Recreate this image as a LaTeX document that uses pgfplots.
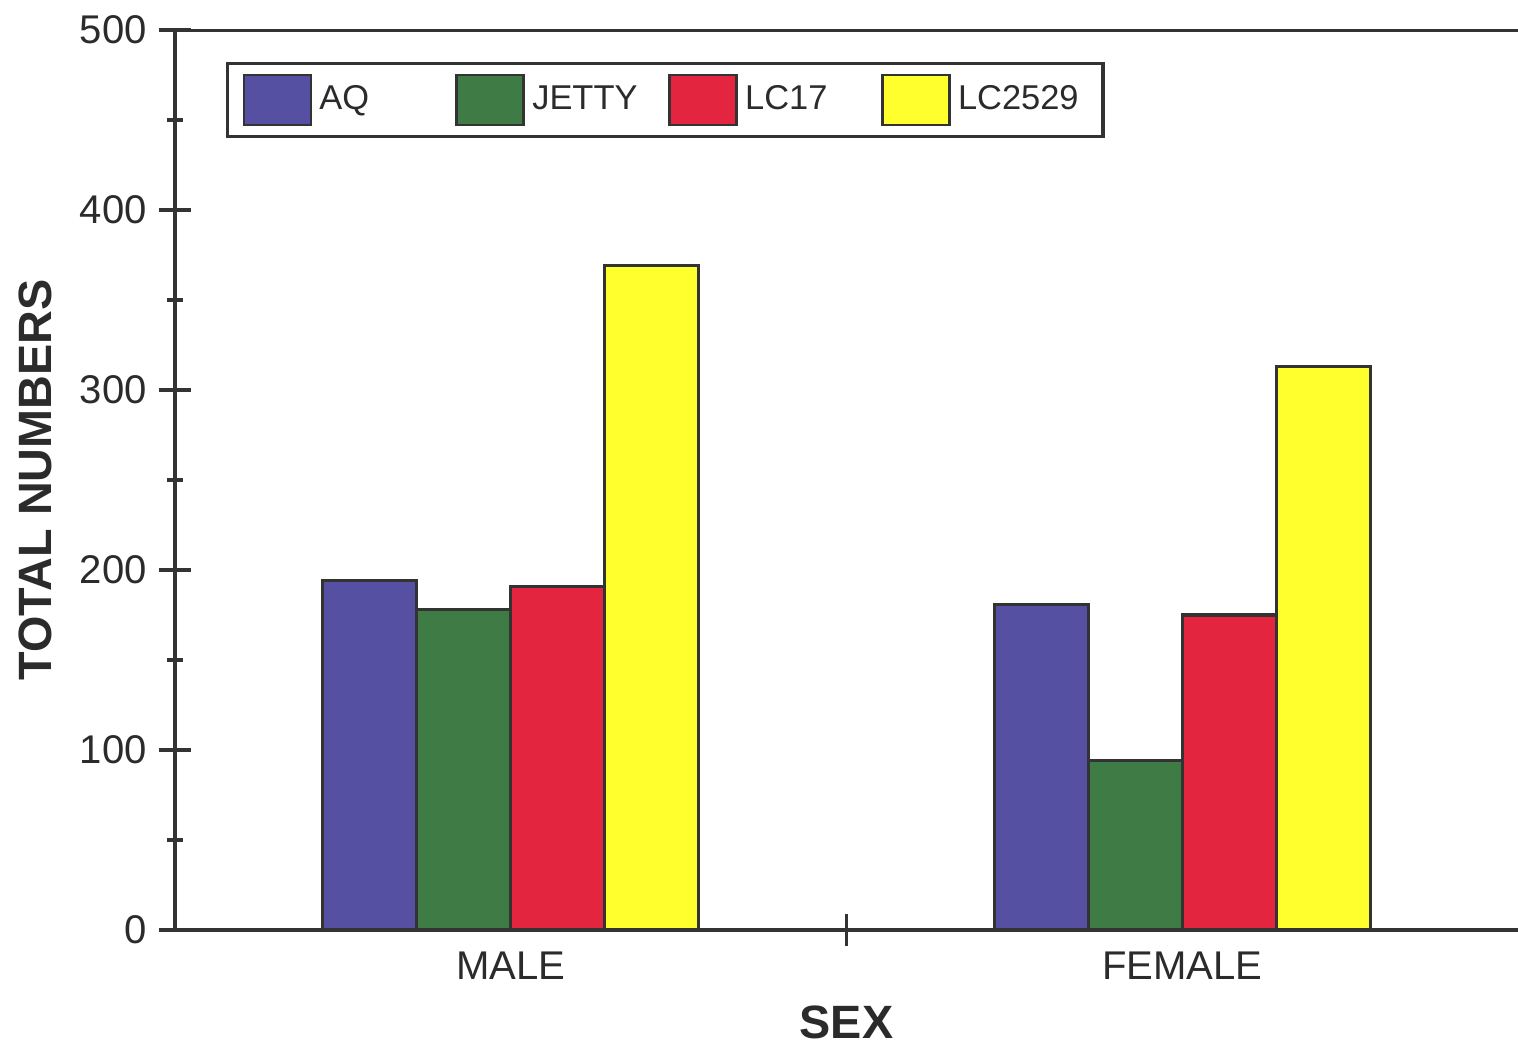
\documentclass[border=0pt]{standalone}
\usepackage{fontspec}
\setmainfont{Liberation Sans}
\usepackage{pgfplots}
\pgfplotsset{compat=1.18}
\definecolor{cAQ}{HTML}{5650A2}
\definecolor{cJETTY}{HTML}{3E7B45}
\definecolor{cLCa}{HTML}{E3253F}
\definecolor{cLCb}{HTML}{FFFF2E}
\definecolor{axisgray}{HTML}{333333}
\definecolor{textgray}{HTML}{2B2B2B}
\pgfplotsset{/pgfplots/ybar legend/.style={/pgfplots/legend image code/.code={\draw[##1,line width=0.8pt] (0cm,-0.25cm) rectangle (0.67cm,0.25cm);}}}
\begin{document}
\begin{tikzpicture}
\useasboundingbox (0,0) rectangle (15.18,10.46);
\begin{axis}[
  at={(1.75cm,1.16cm)}, anchor=south west,
  scale only axis, width=13.43cm, height=9cm,
  ybar, bar width=0.14,
  xmin=-0.5, xmax=1.5, ymin=0, ymax=500,
  axis x line*=bottom, axis y line*=left,
  axis line style={line width=0.9pt, color=axisgray, -},
  ytick={0,100,...,500}, minor y tick num=1,
  xtick={0.5}, xticklabels={},
  extra x ticks={0,1}, extra x tick labels={MALE,FEMALE},
  extra x tick style={major tick length=0pt, tick style={draw=none}},
  tick align=center, xtick align=center, ytick align=center,
  major tick length=0.32cm, minor tick length=0.16cm,
  tick style={line width=0.9pt, color=axisgray},
  /pgf/number format/assume math mode=true,
  tick label style={font=\fontsize{11.4}{13}\selectfont, color=textgray},
  xticklabel style={yshift=-0.1cm},
  xlabel={SEX}, ylabel={TOTAL NUMBERS},
  every axis x label/.style={at={([yshift=-0.92cm]rel axis cs:0.5,0)}, anchor=center, font=\fontsize{13.3}{15}\selectfont\bfseries, color=textgray},
  every axis y label/.style={at={([xshift=-1.40cm]rel axis cs:0,0.5)}, anchor=center, rotate=90, font=\fontsize{13.3}{15}\selectfont\bfseries, color=textgray},
  legend columns=4,
  legend style={at={([xshift=0.51cm,yshift=-0.32cm]rel axis cs:0,1)}, anchor=north west,
    draw=axisgray, line width=0.9pt, inner xsep=0.15cm, inner ysep=0.1cm,
    font=\fontsize{9.8}{11}\selectfont, text=textgray,
    /tikz/every even column/.append style={column sep=0.06cm}},
  legend cell align=left,
]
\addplot[fill=cAQ, draw=axisgray, line width=0.9pt, bar shift=-0.21] coordinates {(0,194) (1,181)};
\addlegendentry{\makebox[1.23cm][l]{AQ}}
\addplot[fill=cJETTY, draw=axisgray, line width=0.9pt, bar shift=-0.07] coordinates {(0,178) (1,94)};
\addlegendentry{\makebox[1.23cm][l]{JETTY}}
\addplot[fill=cLCa, draw=axisgray, line width=0.9pt, bar shift=0.07] coordinates {(0,191) (1,175)};
\addlegendentry{\makebox[1.23cm][l]{LC17}}
\addplot[fill=cLCb, draw=axisgray, line width=0.9pt, bar shift=0.21] coordinates {(0,369) (1,313)};
\addlegendentry{\makebox[1.23cm][l]{LC2529}}
\draw[line width=0.9pt, axisgray] ([xshift=-0.13cm]rel axis cs:0,1) -- (rel axis cs:1,1);
\draw[line width=0.9pt, axisgray] (rel axis cs:0,0) -- ([yshift=-0.16cm]rel axis cs:0,0);
\end{axis}
\end{tikzpicture}
\end{document}
